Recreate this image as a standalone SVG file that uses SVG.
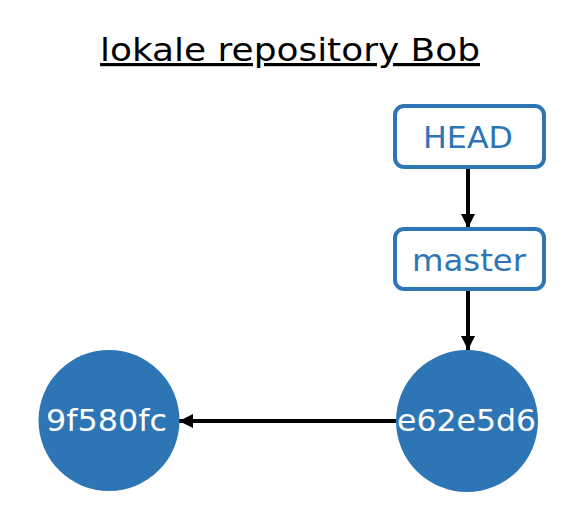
<svg xmlns="http://www.w3.org/2000/svg" width="576" height="516" viewBox="0 0 576 516">
<defs>
<marker id="arr" viewBox="0 0 10 10" refX="10" refY="5" markerWidth="3.5" markerHeight="3.5" orient="auto" markerUnits="strokeWidth">
<path d="M0,0 L10,5 L0,10 z" fill="#000"/>
</marker>
</defs>
<style>
text{font-family:"DejaVu Sans",sans-serif;text-anchor:middle}
.ref{fill:#fff;stroke:#2e75b5;stroke-width:4}
.reft{fill:#2e75b5;font-size:31px}
.commit{fill:#2e75b5}
.ct{fill:#fff;font-size:31px}
.edge{stroke:#000;stroke-width:4;fill:none;marker-end:url(#arr)}
</style>
<rect width="576" height="516" fill="#fff"/>
<g id="title">
<text x="290" y="61" font-size="32" fill="#000" text-decoration="underline" textLength="380" lengthAdjust="spacingAndGlyphs">lokale repository Bob</text>
</g>
<g id="connectors">
<line class="edge" x1="468" y1="169" x2="468" y2="228"/>
<line class="edge" x1="468" y1="291" x2="468" y2="350"/>
<line class="edge" x1="396" y1="421" x2="179" y2="421"/>
</g>
<g id="HEAD">
<rect class="ref" x="395" y="106" width="149" height="61" rx="9"/>
<text class="reft" x="468" y="148" textLength="90" lengthAdjust="spacingAndGlyphs">HEAD</text>
</g>
<g id="master">
<rect class="ref" x="395" y="229" width="149" height="60" rx="9"/>
<text class="reft" x="469" y="271" textLength="114" lengthAdjust="spacingAndGlyphs">master</text>
</g>
<g id="c9f580fc">
<circle class="commit" cx="109" cy="420.5" r="70.5"/>
<text class="ct" x="106.5" y="431" textLength="121" lengthAdjust="spacingAndGlyphs">9f580fc</text>
</g>
<g id="ce62e5d6">
<circle class="commit" cx="467" cy="421" r="71"/>
<text class="ct" x="466.5" y="431" textLength="139" lengthAdjust="spacingAndGlyphs">e62e5d6</text>
</g>
</svg>
